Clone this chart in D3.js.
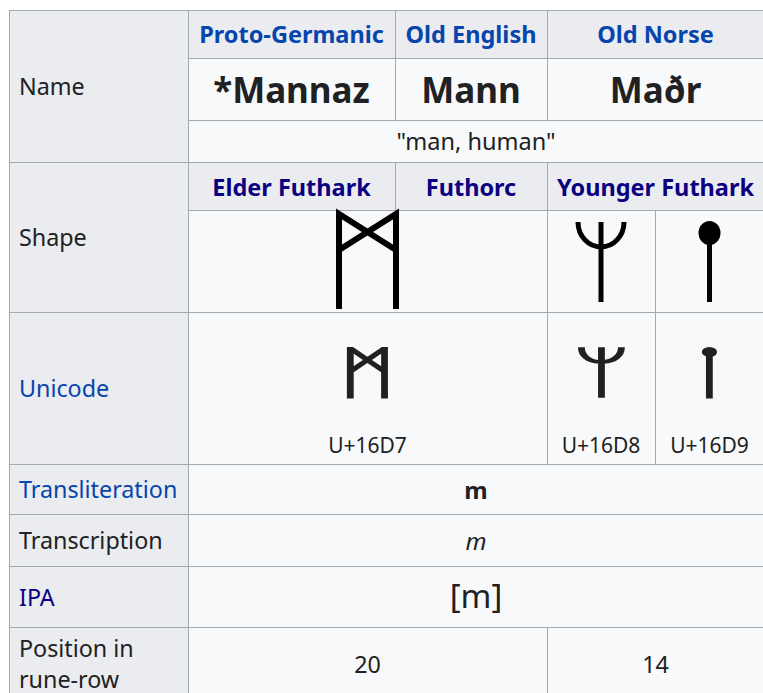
<!DOCTYPE html>
<html><head><meta charset="utf-8">
<script src="https://cdn.jsdelivr.net/npm/d3@7"></script>
<style>html,body{margin:0;padding:0;background:#fff;}svg{display:block;}</style>
</head><body>
<script>
const rowLabels = ["Name","Shape","Unicode","Transliteration","Transcription","IPA","Position in|rune-row"];
const labelIsLink = [false,false,true,true,false,true,false];
const languages = ["Proto-Germanic","Old English","Old Norse"];
const names = ["*Mannaz","Mann","Maðr"];
const meaning = "\"man, human\"";
const scripts = ["Elder Futhark","Futhorc","Younger Futhark"];
const runeChars = ["ᛗ","ᛘ","ᛙ"];
const codePoints = ["U+16D7","U+16D8","U+16D9"];
const transliteration = "m";
const transcription = "m";
const ipa = "[m]";
const positions = ["20","14"];

const W = 763, H = 693;
const xs = [9,188,395,547,655,764];
const ys = [10,58,120,162,210,312,464,514,566,627,700];
const FONT = "'Noto Sans', 'Open Sans', sans-serif";
const BORDER = "#a2a9b1", LBG = "#eaecf0", DBG = "#f8f9fa";
const LINK = "#0645ad", VLINK = "#0b0080", TXT = "#202122";
const FS = 23.3, FSB = 23.5;

const svg = d3.select("body").append("svg").attr("width",W).attr("height",H);

const cells = [
  [0,1,0,3,LBG],[0,1,3,5,LBG],[0,1,5,6,LBG],[0,1,6,7,LBG],[0,1,7,8,LBG],[0,1,8,9,LBG],[0,1,9,10,LBG],
  [1,2,0,1,LBG],[2,3,0,1,LBG],[3,5,0,1,LBG],
  [1,2,1,2,DBG],[2,3,1,2,DBG],[3,5,1,2,DBG],
  [1,5,2,3,DBG],
  [1,2,3,4,LBG],[2,3,3,4,LBG],[3,5,3,4,LBG],
  [1,3,4,5,DBG],[3,4,4,5,DBG],[4,5,4,5,DBG],
  [1,3,5,6,DBG],[3,4,5,6,DBG],[4,5,5,6,DBG],
  [1,5,6,7,DBG],[1,5,7,8,DBG],[1,5,8,9,DBG],
  [1,3,9,10,DBG],[3,5,9,10,DBG]
];
svg.append("g").selectAll("rect").data(cells).join("rect")
  .attr("x",d=>xs[d[0]]+0.5).attr("y",d=>ys[d[2]]+0.5)
  .attr("width",d=>xs[d[1]]-xs[d[0]]).attr("height",d=>ys[d[3]]-ys[d[2]])
  .attr("fill",d=>d[4]).attr("stroke",BORDER).attr("stroke-width",1);

const cx = (a,b)=>(xs[a]+xs[b])/2;
const cy = (a,b)=>(ys[a]+ys[b])/2;

function txt(x,y,s,opts={}){
  return svg.append("text").attr("x",x).attr("y",y).text(s)
    .attr("font-family",opts.family||FONT).attr("font-size",opts.size||FS)
    .attr("font-weight",opts.weight||"normal").attr("font-style",opts.style||"normal")
    .attr("fill",opts.fill||TXT).attr("text-anchor",opts.anchor||"middle")
    .attr("dominant-baseline","central");
}

const labelRows = [[0,3],[3,5],[5,6],[6,7],[7,8],[8,9],[9,10]];
rowLabels.forEach((l,i)=>{
  const [a,b] = labelRows[i];
  const parts = l.split("|");
  const y0 = cy(a,b);
  parts.forEach((p,j)=>{
    txt(19, y0 + (j-(parts.length-1)/2)*31, p, {anchor:"start", fill: labelIsLink[i] ? (rowLabels[i]==="IPA"?VLINK:LINK) : TXT});
  });
});

const langCols = [[1,2],[2,3],[3,5]];
languages.forEach((l,i)=>txt(cx(...langCols[i]), cy(0,1), l, {weight:"bold", fill:LINK, size:FSB}));
names.forEach((n,i)=>txt(cx(...langCols[i]), cy(1,2)+0.5, n, {weight:"bold", size:35}));
txt(cx(1,5), cy(2,3), meaning, {size:FSB});
scripts.forEach((s,i)=>txt(cx(...langCols[i]), cy(3,4)+0.5, s, {weight:"bold", fill:VLINK, size:FSB}));

// Shape row rune drawings
const g = svg.append("g").attr("fill","none").attr("stroke","#000");
{
  const mx = cx(1,3), top = 214, bot = 309, half = 28.5;
  const p = d3.path();
  p.moveTo(mx-half, bot); p.lineTo(mx-half, top); p.lineTo(mx+half, top+36);
  p.moveTo(mx+half, bot); p.lineTo(mx+half, top); p.lineTo(mx-half, top+36);
  g.append("path").attr("d",p.toString()).attr("stroke-width",6).attr("stroke-linejoin","miter");
}
{
  const x = cx(3,4);
  const p = d3.path();
  p.moveTo(x,222); p.lineTo(x,302);
  g.append("path").attr("d",p.toString()).attr("stroke-width",5);
  g.append("path").attr("d",`M${x-23},222 A23,25 0 0 0 ${x+23},222`).attr("stroke-width",5);
}
{
  const x = cx(4,5);
  const p = d3.path(); p.moveTo(x,233); p.lineTo(x,302);
  g.append("path").attr("d",p.toString()).attr("stroke-width",5);
  svg.append("ellipse").attr("cx",x).attr("cy",233).attr("rx",11).attr("ry",12).attr("fill","#000");
}

// Unicode row
const uniCols = [[1,3],[3,4],[4,5]];
runeChars.forEach((r,i)=>{
  const x = cx(...uniCols[i]);
  svg.append("g").attr("transform",`translate(${x},373) scale(1.75,1)`)
    .append("text").text(r).attr("x",0).attr("y",0)
    .attr("font-family","'DejaVu Sans', 'Noto Sans', sans-serif").attr("font-size",56)
    .attr("text-anchor","middle").attr("dominant-baseline","central")
    .attr("fill","#202122").attr("stroke","#202122").attr("stroke-width",1.6);
});
codePoints.forEach((c,i)=>txt(cx(...uniCols[i]), 445, c, {size:21}));

txt(cx(1,5), cy(6,7), transliteration, {weight:"bold", size:24});
txt(cx(1,5), cy(7,8), transcription, {style:"italic", size:24});
txt(cx(1,5), cy(8,9)-1, ipa, {size:33});
txt(cx(1,3), 664, positions[0], {size:FS});
txt(cx(3,5), 664, positions[1], {size:FS});
</script>
</body></html>
